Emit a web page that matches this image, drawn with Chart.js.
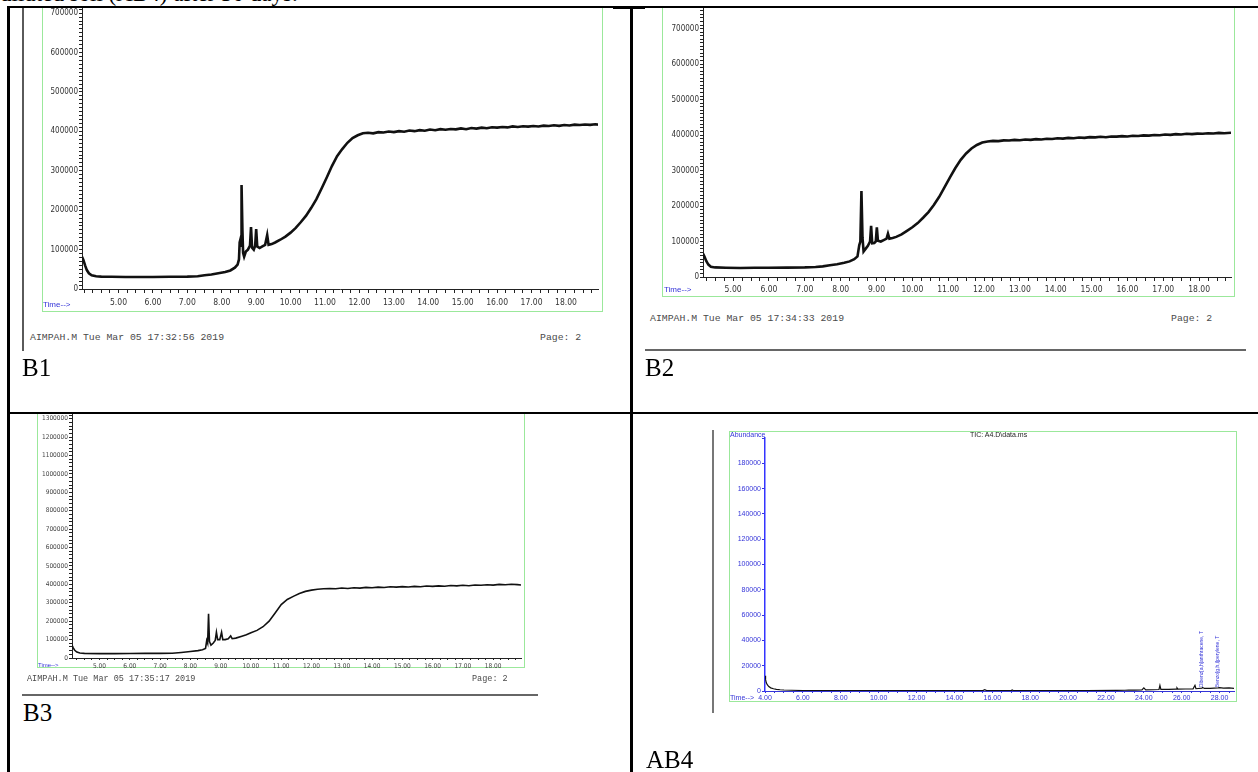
<!DOCTYPE html>
<html>
<head>
<meta charset="utf-8">
<title>TIC chromatograms B1, B2, B3, AB4</title>
<script src="https://cdn.jsdelivr.net/npm/chart.js@4.4.1/dist/chart.umd.min.js"></script>
<style>
  body { margin: 0; width: 1258px; height: 772px; overflow: hidden; background: #fff; position: relative; }
  .rule { position: absolute; background: #000; }
  .gray { position: absolute; background: #5a5a5a; }
  .frame { position: absolute; box-sizing: border-box; border: 1px solid #9be89b; pointer-events: none; }
  .foot { position: absolute; font-family: "Liberation Mono", "DejaVu Sans Mono", monospace; color: #4a4a4a; white-space: pre; line-height: 1; }
  .time { position: absolute; font-family: "Liberation Sans", Arial, sans-serif; color: #3434d8; white-space: pre; line-height: 1; }
  .lab { position: absolute; font-family: "Liberation Serif", "Times New Roman", serif; font-size: 25px; line-height: 1; color: #000; }
  canvas { position: absolute; }
</style>
</head>
<body>

<div class="lab" style="left:0;top:-18px;font-size:23px;white-space:pre">diluted soil (AB4) after 30 days.</div>

<!-- table rules -->
<div class="rule" style="left:7px;top:6px;width:1251px;height:1.5px"></div>
<div class="rule" style="left:613px;top:6px;width:32px;height:3px"></div>
<div class="rule" style="left:7px;top:6px;width:3px;height:766px"></div>
<div class="rule" style="left:630px;top:6px;width:2.5px;height:766px"></div>
<div class="rule" style="left:7px;top:412px;width:1251px;height:1.5px"></div>

<!-- B1 -->
<div class="gray" style="left:22px;top:8px;width:1.5px;height:343px"></div>
<div class="frame" style="left:42px;top:8px;width:561px;height:304px;border-top:none"></div>
<canvas id="b1" width="561" height="304" style="left:42px;top:8px"></canvas>
<div class="time" style="left:43px;top:301px;font-size:8px">Time--&gt;</div>
<div class="foot" style="left:30px;top:333px;font-size:9.8px">AIMPAH.M Tue Mar 05 17:32:56 2019</div>
<div class="foot" style="left:540px;top:333px;font-size:9.8px">Page: 2</div>
<div class="lab" style="left:22px;top:355px">B1</div>

<!-- B2 -->
<div class="frame" style="left:662px;top:8px;width:573px;height:289px;border-top:none"></div>
<canvas id="b2" width="573" height="289" style="left:662px;top:8px"></canvas>
<div class="time" style="left:664px;top:286px;font-size:8px">Time--&gt;</div>
<div class="foot" style="left:650px;top:314px;font-size:9.8px">AIMPAH.M Tue Mar 05 17:34:33 2019</div>
<div class="foot" style="left:1171px;top:314px;font-size:9.8px">Page: 2</div>
<div class="gray" style="left:645px;top:349px;width:601px;height:1.5px;background:#666"></div>
<div class="lab" style="left:645px;top:355px">B2</div>

<!-- B3 -->
<div class="frame" style="left:37px;top:414px;width:488px;height:254px;border-top:none"></div>
<canvas id="b3" width="488" height="254" style="left:37px;top:414px"></canvas>
<div class="time" style="left:38px;top:662px;font-size:6px">Time--&gt;</div>
<div class="foot" style="left:27px;top:675px;font-size:8.5px">AIMPAH.M Tue Mar 05 17:35:17 2019</div>
<div class="foot" style="left:472px;top:675px;font-size:8.5px">Page: 2</div>
<div class="gray" style="left:22px;top:694px;width:516px;height:1.5px;background:#666"></div>
<div class="lab" style="left:23px;top:700px">B3</div>

<!-- AB4 -->
<div class="gray" style="left:712px;top:430px;width:1.5px;height:283px;background:#777"></div>
<div class="frame" style="left:729px;top:431px;width:508px;height:271px"></div>
<canvas id="ab4" width="508" height="271" style="left:729px;top:431px"></canvas>
<div class="time" style="left:730px;top:431px;font-size:7px">Abundance</div>
<div class="time" style="left:970px;top:431px;font-size:7px;color:#222">TIC: A4.D\data.ms</div>
<div class="time" style="left:730px;top:694px;font-size:7px">Time--&gt;</div>
<div class="lab" style="left:646px;top:747px">AB4</div>

<script>
// B1: retention time (min) and abundance
const b1Time = [3.94, 3.98, 4.03, 4.08, 4.14, 4.22, 4.35, 4.5, 4.8, 5.2, 5.6, 6.0, 6.5, 7.0, 7.3, 7.5, 7.7, 7.9, 8.1, 8.25,
  8.38, 8.46, 8.5, 8.52, 8.54, 8.56, 8.575, 8.6, 8.62, 8.65, 8.7, 8.76, 8.82, 8.85, 8.88, 8.93, 8.97, 9.0, 9.03, 9.1,
  9.18, 9.26, 9.32, 9.36, 9.45, 9.55, 9.7, 9.85, 10.0, 10.15, 10.3, 10.45, 10.6, 10.75, 10.9, 11.05, 11.2, 11.35, 11.5, 11.65,
  11.8, 11.95, 12.1, 12.25, 12.4, 12.55, 12.7, 12.85, 13.0, 13.15, 13.3, 13.45, 13.6, 13.75, 13.9, 14.05, 14.2, 14.35, 14.5, 14.65,
  14.8, 14.95, 15.1, 15.25, 15.4, 15.55, 15.7, 15.85, 16.0, 16.15, 16.3, 16.45, 16.6, 16.75, 16.9, 17.05, 17.2, 17.35, 17.5, 17.65,
  17.8, 17.95, 18.1, 18.25, 18.4, 18.55, 18.7, 18.85, 18.93];
const b1Abund = [82000, 74000, 60000, 48000, 40000, 35000, 32500, 31500, 31000, 30500, 30500, 30500, 31000, 31500, 32500, 35000, 37000, 40000, 43000, 47000,
  54000, 62000, 75000, 118000, 125000, 110000, 264000, 150000, 92000, 82000, 95000, 100000, 110000, 157000, 105000, 100000, 110000, 152000, 108000, 104000,
  108000, 112000, 137000, 112000, 114000, 118000, 125000, 133000, 143000, 155000, 170000, 186000, 206000, 228000, 255000, 283000, 312000, 337000, 355000, 371000,
  383000, 390000, 395000, 396500, 395000, 398000, 397000, 399500, 398000, 400500, 399000, 402000, 400500, 403000, 401500, 404500, 403000, 405500, 404000, 406000,
  405000, 407500, 405500, 408500, 407000, 409500, 408000, 410500, 409500, 411000, 410000, 412500, 411000, 413000, 412000, 413500, 412500, 414500, 413500, 415500,
  414000, 416000, 415000, 417000, 416000, 417500, 416500, 418000, 417000];

// B2
const b2Time = [4.16, 4.2, 4.25, 4.31, 4.38, 4.5, 4.8, 5.2, 5.6, 6.0, 6.5, 7.0, 7.3, 7.5, 7.7, 7.9, 8.1, 8.25, 8.38, 8.47,
  8.52, 8.55, 8.58, 8.61, 8.64, 8.7, 8.76, 8.82, 8.85, 8.88, 8.94, 8.98, 9.01, 9.04, 9.12, 9.2, 9.28, 9.32, 9.36, 9.45,
  9.55, 9.7, 9.85, 10.0, 10.15, 10.3, 10.45, 10.6, 10.75, 10.9, 11.05, 11.2, 11.35, 11.5, 11.65, 11.8, 11.95, 12.1, 12.25, 12.4,
  12.55, 12.7, 12.85, 13.0, 13.15, 13.3, 13.45, 13.6, 13.75, 13.9, 14.05, 14.2, 14.35, 14.5, 14.65, 14.8, 14.95, 15.1, 15.25, 15.4,
  15.55, 15.7, 15.85, 16.0, 16.15, 16.3, 16.45, 16.6, 16.75, 16.9, 17.05, 17.2, 17.35, 17.5, 17.65, 17.8, 17.95, 18.1, 18.25, 18.4,
  18.55, 18.7, 18.89];
const b2Abund = [66000, 58000, 45000, 35000, 29000, 27000, 26000, 25500, 26000, 26000, 26500, 27000, 28000, 30000, 33000, 36000, 40000, 44000, 50000, 58000,
  90000, 100000, 242000, 110000, 72000, 80000, 88000, 100000, 144000, 95000, 96000, 100000, 140000, 102000, 100000, 104000, 108000, 122000, 108000, 110000,
  113000, 120000, 130000, 140000, 152000, 167000, 183000, 203000, 226000, 253000, 281000, 307000, 330000, 348000, 362000, 372000, 379000, 382000, 383500, 383000,
  385000, 384500, 386500, 385500, 387500, 386500, 388500, 387500, 389500, 389000, 391000, 390000, 392000, 391000, 393000, 392000, 394000, 393500, 395000, 394000,
  396000, 395500, 397000, 396000, 398000, 397500, 399000, 398500, 400000, 399500, 401500, 400500, 402500, 401500, 403500, 402500, 404000, 403500, 405000, 404500,
  406000, 405000, 406500];

// B3
const b3Time = [4.09, 4.13, 4.18, 4.25, 4.35, 4.5, 5.0, 5.5, 6.0, 6.5, 7.0, 7.4, 7.7, 8.0, 8.25, 8.4, 8.5, 8.54, 8.57, 8.6,
  8.63, 8.68, 8.75, 8.82, 8.86, 8.9, 8.97, 9.03, 9.07, 9.15, 9.25, 9.33, 9.38, 9.5, 9.7, 9.85, 10.0, 10.2, 10.4, 10.6,
  10.8, 11.0, 11.2, 11.4, 11.6, 11.8, 12.0, 12.2, 12.4, 12.6, 12.8, 13.0, 13.2, 13.4, 13.6, 13.8, 14.0, 14.2, 14.4, 14.6,
  14.8, 15.0, 15.2, 15.4, 15.6, 15.8, 16.0, 16.2, 16.4, 16.6, 16.8, 17.0, 17.2, 17.4, 17.6, 17.8, 18.0, 18.2, 18.4, 18.6,
  18.8, 18.92];
const b3Abund = [70000, 55000, 42000, 32000, 27000, 25000, 24000, 24000, 24500, 25000, 25000, 26000, 30000, 35000, 40000, 45000, 52000, 95000, 80000, 240000,
  90000, 70000, 80000, 95000, 140000, 100000, 100000, 140000, 100000, 100000, 105000, 120000, 105000, 108000, 118000, 126000, 137000, 150000, 170000, 200000,
  245000, 290000, 318000, 335000, 350000, 362000, 369000, 374000, 376000, 378000, 376000, 380000, 378000, 382000, 380000, 384000, 382000, 385000, 383000, 387000,
  385000, 388000, 386000, 389000, 387000, 391000, 389000, 392000, 390000, 394000, 392000, 395000, 393000, 397000, 395000, 398000, 396000, 400000, 398000, 401000,
  399000, 397000];

// AB4
const ab4Time = [4.0, 4.03, 4.07, 4.12, 4.2, 4.3, 4.45, 4.6, 4.8, 5.0, 5.4, 6.0, 7.0, 8.0, 10.0, 12.0, 14.0, 15.5, 15.6, 15.7,
  17.0, 17.05, 17.1, 19.0, 21.0, 22.5, 23.0, 23.2, 23.5, 23.9, 24.0, 24.1, 24.5, 24.8, 24.85, 24.9, 25.3, 25.7, 25.75, 25.8,
  26.2, 26.6, 26.7, 26.75, 27.07, 27.1, 27.2, 27.5, 27.92, 28.0, 28.2, 28.5, 28.76];
const ab4Abund = [12000, 9000, 6500, 5000, 3500, 2500, 1800, 1300, 1000, 800, 600, 400, 300, 250, 250, 250, 300, 300, 1000, 300,
  300, 800, 300, 350, 400, 450, 600, 800, 700, 900, 2500, 900, 1000, 1200, 4500, 1300, 1300, 1500, 2500, 1500,
  1600, 1700, 4500, 1800, 2200, 2800, 2000, 2000, 2400, 2600, 2200, 2500, 2000];
const ab4PeakTimes = [27.07, 27.92];
const ab4PeakNames = ['Dibenz[a,h]anthracene, T', 'Benzo[g,h,i]perylene, T'];
const ab4PeakBase = [3000, 3000];

const narrow = '"Liberation Sans Narrow", "DejaVu Sans Condensed", "Liberation Sans", sans-serif';

function isMultiple(v, step) {
  const r = v / step;
  return Math.abs(r - Math.round(r)) < 1e-6;
}

// one tick every `step` between the scale bounds
function stepTicks(scale, step) {
  const out = [];
  for (let k = Math.ceil(scale.min / step - 1e-9); k * step <= scale.max + 1e-9; k++) {
    out.push({ value: Math.round(k * step * 1000) / 1000 });
  }
  scale.ticks = out;
}

function drawChron(id, times, values, cfg, plugins) {
  const points = times.map((t, i) => ({ x: t, y: values[i] }));
  return new Chart(document.getElementById(id), {
    type: 'line',
    data: {
      datasets: [{
        data: points,
        borderColor: '#111',
        borderWidth: cfg.lw,
        pointRadius: 0,
        tension: 0,
        fill: false
      }]
    },
    plugins: plugins || [],
    options: {
      responsive: false,
      animation: false,
      events: [],
      layout: { padding: { left: 0, right: cfg.pr, top: cfg.pt, bottom: 0 } },
      plugins: { legend: { display: false }, tooltip: { enabled: false } },
      scales: {
        x: {
          type: 'linear',
          min: cfg.xmin,
          max: cfg.xmax,
          afterBuildTicks: s => stepTicks(s, cfg.xstep),
          afterFit: s => { s.height = cfg.xh; s.paddingLeft = 0; s.paddingRight = 0; },
          border: { color: cfg.axisColor, width: 1 },
          grid: { drawOnChartArea: false, tickLength: cfg.xtl, color: cfg.axisColor },
          ticks: {
            autoSkip: false,
            maxRotation: 0,
            padding: cfg.xpad,
            color: cfg.labelColor,
            font: { family: cfg.family, size: cfg.xfont },
            callback: v => (v >= cfg.xfirst && isMultiple(v, cfg.xlab)) ? v.toFixed(2) : ''
          }
        },
        y: {
          type: 'linear',
          min: 0,
          max: cfg.ymax,
          afterBuildTicks: s => stepTicks(s, cfg.ystep),
          afterFit: s => { s.width = cfg.yw; s.paddingTop = 0; s.paddingBottom = 0; },
          border: { color: cfg.yAxisColor || cfg.axisColor, width: cfg.yaw || 1 },
          grid: { drawOnChartArea: false, tickLength: 3, color: cfg.axisColor },
          ticks: {
            autoSkip: false,
            padding: 1,
            color: cfg.labelColor,
            font: { family: cfg.family, size: cfg.yfont },
            callback: v => (isMultiple(v, cfg.ylab) && v <= cfg.ylabMax) ? String(v) : ''
          }
        }
      }
    }
  });
}

const peakLabels = {
  id: 'peakLabels',
  afterDatasetsDraw(chart) {
    const { ctx, scales: { x, y } } = chart;
    ctx.save();
    ctx.fillStyle = '#3434d8';
    ctx.font = '5px "Liberation Sans", sans-serif';
    ctx.textBaseline = 'middle';
    ab4PeakTimes.forEach((t, i) => {
      ctx.save();
      ctx.translate(x.getPixelForValue(t), y.getPixelForValue(ab4PeakBase[i]));
      ctx.rotate(-Math.PI / 2);
      ctx.fillText(ab4PeakNames[i], 0, 0);
      ctx.restore();
    });
    ctx.restore();
  }
};

drawChron('b1', b1Time, b1Abund, {
  lw: 2.6, pr: 5, pt: 0, xh: 23, yw: 40,
  xmin: 3.94, xmax: 18.93, xstep: 0.25, xlab: 1, xfirst: 5, xtl: 4, xpad: 5, xfont: 8.5,
  ymax: 713000, ystep: 10000, ylab: 100000, ylabMax: 700000, yfont: 8,
  axisColor: '#222', labelColor: '#333', family: narrow
});

drawChron('b2', b2Time, b2Abund, {
  lw: 2.6, pr: 4, pt: 0, xh: 20, yw: 41,
  xmin: 4.16, xmax: 18.89, xstep: 0.25, xlab: 1, xfirst: 5, xtl: 4, xpad: 4, xfont: 8.5,
  ymax: 758000, ystep: 10000, ylab: 100000, ylabMax: 700000, yfont: 8,
  axisColor: '#222', labelColor: '#333', family: narrow
});

drawChron('b3', b3Time, b3Abund, {
  lw: 1.6, pr: 4, pt: 0, xh: 10, yw: 35,
  xmin: 4.09, xmax: 18.92, xstep: 0.25, xlab: 1, xfirst: 5, xtl: 2, xpad: 2, xfont: 6.5,
  ymax: 1326000, ystep: 20000, ylab: 100000, ylabMax: 1300000, yfont: 6.5,
  axisColor: '#222', labelColor: '#444', family: narrow
});

drawChron('ab4', ab4Time, ab4Abund, {
  lw: 1.2, pr: 3, pt: 7, xh: 11, yw: 36,
  xmin: 4, xmax: 28.76, xstep: 0.5, xlab: 2, xfirst: 4, xtl: 2, xpad: 1, xfont: 7,
  ymax: 200000, ystep: 20000, ylab: 20000, ylabMax: 180000, yfont: 7,
  axisColor: '#3434d8', yAxisColor: '#3434ff', yaw: 1.5, labelColor: '#3434d8', family: '"Liberation Sans", Arial, sans-serif'
}, [peakLabels]);
</script>
</body>
</html>
